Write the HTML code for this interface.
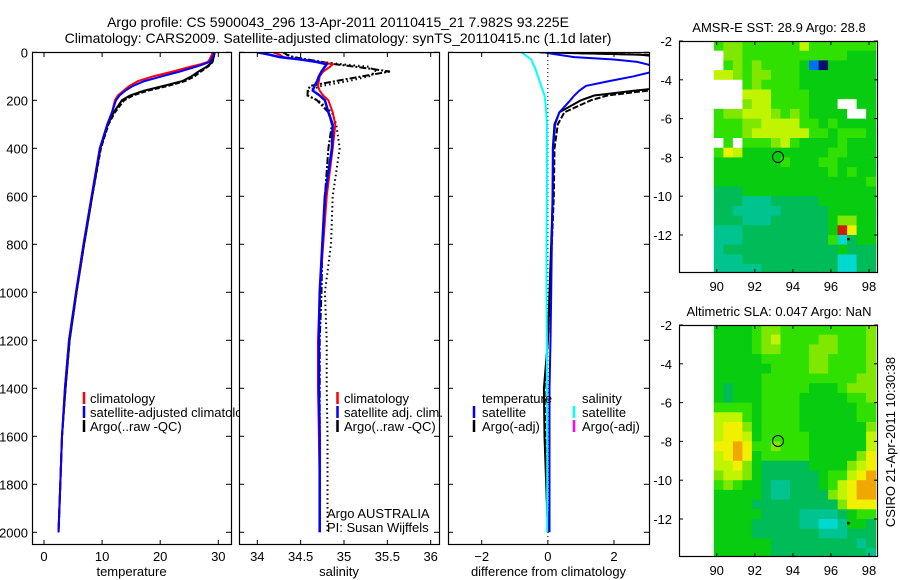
<!DOCTYPE html>
<html><head><meta charset="utf-8"><style>
html,body{margin:0;padding:0;background:#fff;}
svg{display:block;font-family:"Liberation Sans",sans-serif;}
text{fill:#000;}
</style></head><body>
<svg id="fig" width="900" height="580" viewBox="0 0 900 580" xmlns="http://www.w3.org/2000/svg">
<text x="338" y="27" font-size="14" text-anchor="middle">Argo profile: CS 5900043_296 13-Apr-2011 20110415_21 7.982S 93.225E</text>
<text x="338" y="43" font-size="14" text-anchor="middle">Climatology: CARS2009. Satellite-adjusted climatology: synTS_20110415.nc (1.1d later)</text>
<g id="layer"></g>
</svg>
<script>
// ---- profile data ----
const depths = [0,10,20,30,40,50,60,80,100,120,140,160,180,200,250,300,400,600,800,1000,1200,1400,1600,1800,2000];
const tempClim = [29.0,28.9,28.7,28.5,28.2,26.9,25.2,22.2,18.8,16.2,14.7,13.7,12.7,12.2,11.7,10.9,9.6,8.2,6.8,5.5,4.3,3.6,3.1,2.8,2.5];
const tempSat  = [29.3,29.2,29.0,28.8,28.5,27.4,26.2,23.4,20.3,17.3,15.3,14.0,13.0,12.4,11.7,10.9,9.6,8.2,6.8,5.5,4.3,3.6,3.1,2.8,2.5];
const tempArgo = [29.4,29.3,29.2,29.1,29.0,28.5,28.0,26.6,25.4,23.8,20.6,17.2,14.8,13.4,12.0,11.0,9.7,8.3,6.9,5.6,4.4,3.7,3.1,2.8,2.5];
const tempArgoRaw = [29.4,29.3,29.2,29.1,29.0,28.7,28.2,27.0,25.9,24.3,21.3,17.9,15.3,13.8,12.2,11.1,9.8,8.3,6.9,5.6,4.4,3.7,3.1,2.8,2.5];
const salClim = [34.18,34.26,34.30,34.50,34.69,34.87,34.84,34.76,34.72,34.71,34.70,34.72,34.76,34.82,34.87,34.90,34.87,34.80,34.76,34.72,34.70,34.70,34.71,34.72,34.72];
const salSat  = [34.00,34.14,34.26,34.50,34.68,34.80,34.78,34.74,34.71,34.69,34.66,34.64,34.72,34.78,34.82,34.87,34.86,34.78,34.75,34.72,34.71,34.71,34.72,34.72,34.72];
const salArgo = [34.30,34.34,34.42,34.58,34.74,34.90,35.13,35.53,35.21,34.90,34.61,34.58,34.58,34.69,34.82,34.86,34.82,34.78,34.75,34.74,34.72,34.72,34.72,34.72,34.72];
const salArgoRaw = [34.30,34.34,34.42,34.58,34.74,34.98,35.29,35.37,35.29,35.05,34.74,34.59,34.58,34.70,34.86,34.91,34.95,34.87,34.85,34.78,34.80,34.80,34.81,34.81,34.81];
const diffTempSat  = [-0.15,0.3,0.8,2.0,2.7,3.0,3.2,3.2,2.6,1.85,1.15,0.95,0.8,0.68,0.35,0.22,0.16,0.14,0.12,0.1,0.08,0.05,0.05,0.05,0.05];
const diffTempArgo = [-0.25,2.8,3.5,4,4,4,4,4,4,4,4,2.6,1.4,1.0,0.35,0.2,0.15,0.15,0.1,0.05,0.0,-0.12,-0.1,-0.05,0.0];
const diffTempArgoRaw = [-0.25,3.0,3.8,4,4,4,4,4,4,4,4,3.0,1.8,1.3,0.5,0.3,0.2,0.18,0.12,0.06,0.0,-0.1,-0.08,-0.04,0.0];
const diffSalSat = [-0.8,-0.7,-0.6,-0.5,-0.47,-0.45,-0.4,-0.35,-0.3,-0.25,-0.2,-0.15,-0.1,-0.08,-0.05,-0.03,-0.03,-0.03,-0.04,-0.04,-0.03,-0.03,-0.02,-0.02,-0.02];
const depthTicks = [0,200,400,600,800,1000,1200,1400,1600,1800,2000];
const tempTicks = [0,10,20,30];
const salTicks = [34,34.5,35,35.5,36];
const diffTicks = [-2,0,2];
// ---- map data (0.5 deg cells, rows from lat -2 southward, cols from lon 89.85 eastward) ----
const sstRows = [
"45544444464444444","w5544444444444333","w454544443bn33333","66545544433333333",
"www45444433333333","www66644443333333","www5664444333ww33","45566654543333ww3",
"44455666644343333","44456666664434443","w4w44456433334333","47633333333344333",
"33333334333443333","33333333333343433","33333333333333334","22233333333333333",
"22211122222333333","22111112222233333","22211122222235533","11122222222239733",
"11122222222240233","12222222222223222","11122222222220022","11111222222220022"];
const slaRows = [
"33334554444444445","33334564444554445","33334554445554445","33333444445544445",
"33333344445544445","33333444444444455","32333444443334555","32333444433333445",
"44443444433333344","66643444433333344","67753444433333335","67763444443333336",
"77874454443333336","67873444443333357","66753222223333567","56653222222344678",
"45433211222346788","33333211222256788","33332222222225777","33333222211112344",
"33332222211001332","33332222222111222","33333322222222212","33333322222222221"];
const latTicks = [-2,-4,-6,-8,-10,-12];
const lonTicks = [90,92,94,96,98];
const argoPos = [93.22,-7.98];

const NS="http://www.w3.org/2000/svg";
const layer=document.getElementById('layer');
function mk(tag,attrs,parent){const e=document.createElementNS(NS,tag);for(const k in attrs)e.setAttribute(k,attrs[k]);(parent||layer).appendChild(e);return e;}

function lin(d0,d1,r0,r1){return v=>r0+(v-d0)*(r1-r0)/(d1-d0);}
const yD = lin(0,2000,52.3,532.3);

function panel(name,x0,x1,xs,xticks,xlabel,clipId,showY){
  const g=mk('g',{});
  
  
  mk('rect',{x:x0,y:52,width:x1-x0,height:493,fill:'#fff'},g);
  const cp=mk('clipPath',{id:clipId},g);
  mk('rect',{x:x0,y:52,width:x1-x0,height:493},cp);
  return g;
}
function frame(g,x0,x1,xs,xticks,xlabel,showY,fmt){
  mk('rect',{x:x0+0.5,y:52.5,width:x1-x0,height:492,fill:'none',stroke:'#000','stroke-width':1.2},g);
  depthTicks.forEach(d=>{const y=yD(d);
    mk('line',{x1:x0,x2:x0+5,y1:y,y2:y,stroke:'#000'},g);
    mk('line',{x1:x1-5,x2:x1,y1:y,y2:y,stroke:'#000'},g);
    if(showY){const t=mk('text',{x:28,y:y+5,'font-size':13,'text-anchor':'end'},g);t.textContent=d;
      
      }
  });
  xticks.forEach(v=>{const x=xs(v);
    mk('line',{x1:x,x2:x,y1:52,y2:57,stroke:'#000'},g);
    mk('line',{x1:x,x2:x,y1:540,y2:545,stroke:'#000'},g);
    const t=mk('text',{x:x,y:561,'font-size':13,'text-anchor':'middle'},g);t.textContent=(fmt?fmt(v):v);
    
    
  });
  const lab=mk('text',{x:(x0+x1)/2,y:576,'font-size':13,'text-anchor':'middle'},g);lab.textContent=xlabel;
  
  
}
function series(g,vals,xs,color,clipId,name,dash,w){
  const pts=vals.map((v,i)=>xs(v).toFixed(1)+','+yD(depths[i]).toFixed(1)).join(' ');
  const p=mk('polyline',{points:pts,fill:'none',stroke:color,'stroke-width':w||2,'clip-path':'url(#'+clipId+')'},g);
  if(dash)p.setAttribute('stroke-dasharray',dash);
  
  
}
function legend(g,x,y,color,label,mx){
  if(color){const m=mk('line',{x1:mx,x2:mx,y1:y-6,y2:y+6,stroke:color,'stroke-width':2.5},g);}
  const t=mk('text',{x:x,y:y+5,'font-size':13},g);t.textContent=label;
  
  
}

// Panel 1: temperature
const xT=lin(0,30,44,218.3);
const g1=panel('temperature-panel',32,231,xT,tempTicks,'temperature','c1',true);
series(g1,tempArgoRaw,xT,'#000','c1','argo-raw-temperature-line','5,2',2);
series(g1,tempArgo,xT,'#000','c1','argo-temperature-line',null,2);
series(g1,tempClim,xT,'#f00','c1','climatology-temperature-line',null,2);
series(g1,tempSat,xT,'#00f','c1','satellite-temperature-line',null,2);
frame(g1,32,231,xT,tempTicks,'temperature',true);
legend(g1,90,398,'#f00','climatology',84);
legend(g1,90,412,'#00f','satellite-adjusted climatology',84);
legend(g1,90,426,'#000','Argo(..raw -QC)',84);

// Panel 2: salinity
const xS=lin(34,36,257.3,430.7);
const g2=panel('salinity-panel',239,439,xS,salTicks,'salinity','c2',false);
series(g2,salArgoRaw,xS,'#000','c2','argo-raw-salinity-line','1.5,3',2);
series(g2,salArgo,xS,'#000','c2','argo-salinity-line','7,2,2,2',2);
series(g2,salClim,xS,'#f00','c2','climatology-salinity-line',null,2);
series(g2,salSat,xS,'#00f','c2','satellite-salinity-line',null,2.5);
frame(g2,239,439,xS,salTicks,'salinity',false);
legend(g2,344,398,'#f00','climatology',337.5);
legend(g2,344,412,'#00f','satellite adj. clim.',337.5);
legend(g2,344,426,'#000','Argo(..raw -QC)',337.5);
legend(g2,327,513,null,'Argo AUSTRALIA');
legend(g2,327,527,null,'PI: Susan Wijffels');

// Panel 3: differences
const xDf=lin(-2,2,481.7,614);
const g3=panel('difference-panel',448,649,xDf,diffTicks,'difference from climatology','c3',false);
mk('line',{x1:xDf(0),x2:xDf(0),y1:52,y2:545,stroke:'#000','stroke-dasharray':'1,3','stroke-width':1},g3);
series(g3,diffTempArgoRaw,xDf,'#000','c3','argo-raw-temperature-diff-line','6,2',2);
series(g3,diffTempArgo,xDf,'#000','c3','argo-temperature-diff-line',null,2);
series(g3,diffSalSat,xDf,'#0ff','c3','satellite-salinity-diff-line',null,2);
series(g3,diffTempSat,xDf,'#00f','c3','satellite-temperature-diff-line',null,2);
frame(g3,448,649,xDf,diffTicks,'difference from climatology',false,v=>v<0?'\u2212'+(-v):v);
legend(g3,482,398,null,'temperature');
legend(g3,482,412,'#00f','satellite',474);
legend(g3,482,426,'#000','Argo(-adj)',474);
legend(g3,582,398,null,'salinity');
legend(g3,582,412,'#0ff','satellite',574);
legend(g3,582,426,'#f0f','Argo(-adj)',574);

// Maps
const palette={'0':'#00d8d0','1':'#00c490','2':'#00bc58','3':'#08cc10','4':'#30e000','5':'#80e800','6':'#c0f400','7':'#f0f000','8':'#f0a800','9':'#c82000','b':'#0070f0','n':'#001070','w':'#ffffff'};
function mapPanel(name,top,rows,title,clipId){
  const g=mk('g',{});
  
  
  const xL=lin(90,98,716.7,869),yL=lin(-2,-12,top,top+194);
  const x0=679,x1=878,y0=top,y1=top+232;
  const cp=mk('clipPath',{id:clipId},g);mk('rect',{x:x0,y:y0,width:x1-x0,height:y1-y0},cp);
  const cg=mk('g',{'clip-path':'url(#'+clipId+')'},g);
  rows.forEach((r,ri)=>{for(let ci=0;ci<r.length;ci++){
    const lon=89.85+ci*0.5,lat=-2-ri*0.5;
    const xa=xL(lon),ya=yL(lat);
    const c=mk('rect',{x:xa.toFixed(1),y:ya.toFixed(1),width:(xL(lon+0.5)-xa+0.6).toFixed(1),height:(yL(lat-0.5)-ya+0.6).toFixed(1),fill:palette[r[ci]]},cg);
    
    
  }});
  const circ=mk('circle',{cx:xL(argoPos[0]),cy:yL(argoPos[1]),r:5.5,fill:'none',stroke:'#000','stroke-width':1},g);
  
  
  mk('rect',{x:xL(96.85),y:yL(-12.15),width:2.5,height:2.5,fill:'#000'},g);
  mk('rect',{x:x0+0.5,y:y0+0.5,width:x1-x0-1,height:y1-y0-1,fill:'none',stroke:'#000','stroke-width':1.2},g);
  latTicks.forEach(v=>{const y=yL(v);
    mk('line',{x1:x0,x2:x0+4,y1:y,y2:y,stroke:'#000'},g);mk('line',{x1:x1-4,x2:x1,y1:y,y2:y,stroke:'#000'},g);
    const t=mk('text',{x:672,y:y+5,'font-size':13,'text-anchor':'end'},g);t.textContent=v<0?'-'+(-v):v;
    
    });
  lonTicks.forEach(v=>{const x=xL(v);
    mk('line',{x1:x,x2:x,y1:y0,y2:y0+4,stroke:'#000'},g);mk('line',{x1:x,x2:x,y1:y1-4,y2:y1,stroke:'#000'},g);
    const t=mk('text',{x:x,y:y1+18,'font-size':13,'text-anchor':'middle'},g);t.textContent=v;
    
    });
  const tt=mk('text',{x:779,y:top-9,'font-size':13,'text-anchor':'middle'},g);tt.textContent=title;
  
  
}
mapPanel('sst-map',41,sstRows,'AMSR-E SST: 28.9 Argo: 28.8','m1');
mapPanel('sla-map',325,slaRows,'Altimetric SLA: 0.047 Argo: NaN','m2');
const ts=mk('text',{x:0,y:0,'font-size':13,'text-anchor':'middle',transform:'translate(895,442) rotate(-90)'});
ts.textContent='CSIRO 21-Apr-2011 10:30:38';


</script>
</body></html>
